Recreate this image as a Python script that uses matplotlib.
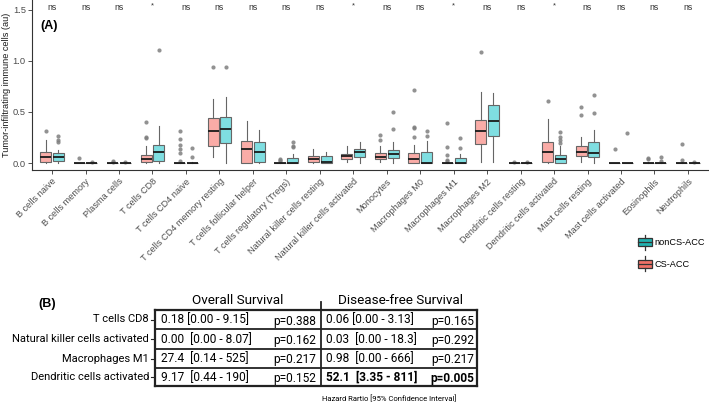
import matplotlib
matplotlib.use("Agg")
import matplotlib.pyplot as plt
from matplotlib.patches import Rectangle
from matplotlib.lines import Line2D
from matplotlib.legend_handler import HandlerBase

plt.rcParams['font.family'] = ['Liberation Sans', 'DejaVu Sans']

# ---------------- data, panel A ----------------
cells = ['B cells naive', 'B cells memory', 'Plasma cells', 'T cells CD8',
         'T cells CD4 naive', 'T cells CD4 memory resting',
         'T cells follicular helper', 'T cells regulatory (Tregs)',
         'Natural killer cells resting', 'Natural killer cells activated',
         'Monocytes', 'Macrophages M0', 'Macrophages M1', 'Macrophages M2',
         'Dendritic cells resting', 'Dendritic cells activated',
         'Mast cells resting', 'Mast cells activated', 'Eosinophils',
         'Neutrophils']
signif = ['ns', 'ns', 'ns', '*', 'ns', 'ns', 'ns', 'ns', 'ns', '*',
          'ns', 'ns', '*', 'ns', 'ns', '*', 'ns', 'ns', 'ns', 'ns']

# CS-ACC box statistics
cs_med = [0.062, 0, 0, 0.039, 0, 0.316, 0.14, 0, 0.036, 0.068,
          0.055, 0.042, 0, 0.31, 0, 0.104, 0.11, 0, 0, 0]
cs_q1 = [0.013, 0, 0, 0.013, 0, 0.166, 0, 0, 0.006, 0.036,
         0.039, 0, 0, 0.182, 0, 0.013, 0.068, 0, 0, 0]
cs_q3 = [0.11, 0.002, 0.003, 0.078, 0.004, 0.44, 0.218, 0.005, 0.065, 0.088,
         0.094, 0.094, 0.005, 0.42, 0.003, 0.208, 0.166, 0, 0.003, 0.003]
cs_lo = [0, 0, 0, 0, 0, 0.055, 0, 0, 0, 0.007,
         0.01, 0, 0, 0.007, 0, 0.005, 0.007, 0, 0, 0]
cs_hi = [0.23, 0.005, 0.008, 0.166, 0.01, 0.625, 0.41, 0.012, 0.137, 0.166,
         0.17, 0.176, 0.012, 0.697, 0.007, 0.43, 0.257, 0, 0.007, 0.007]
cs_out = [[0.31], [0.049], [0.015, 0.02], [0.24, 0.257, 0.404],
          [0.02, 0.1, 0.14, 0.18, 0.235, 0.31], [0.94], [], [0.02, 0.03, 0.035],
          [], [], [0.23, 0.27], [0.25, 0.345, 0.355, 0.717],
          [0.02, 0.03, 0.078, 0.156, 0.388], [1.085], [0.015], [0.61],
          [0.472, 0.544], [0.14], [0.04, 0.05], [0.03, 0.186]]

# nonCS-ACC box statistics
ncs_med = [0.059, 0, 0, 0.107, 0, 0.33, 0.11, 0.005, 0.01, 0.104,
           0.088, 0.0, 0.005, 0.407, 0, 0.036, 0.098, 0, 0, 0]
ncs_q1 = [0.023, 0, 0, 0.023, 0, 0.2, 0.013, 0, 0, 0.055,
          0.046, 0, 0, 0.264, 0, 0, 0.055, 0, 0, 0]
ncs_q3 = [0.094, 0.002, 0.003, 0.18, 0.003, 0.453, 0.208, 0.046, 0.068, 0.137,
          0.127, 0.104, 0.046, 0.567, 0.003, 0.078, 0.202, 0, 0.003, 0.002]
ncs_lo = [0.005, 0, 0, 0, 0, 0, 0, 0, 0, 0,
          0.005, 0, 0, 0.013, 0, 0, 0, 0, 0, 0]
ncs_hi = [0.127, 0.005, 0.006, 0.36, 0.007, 0.648, 0.32, 0.088, 0.11, 0.21,
          0.21, 0.215, 0.088, 0.687, 0.006, 0.17, 0.322, 0, 0.006, 0.005]
ncs_out = [[0.21, 0.225, 0.264], [0.01], [0.012], [1.104], [0.055, 0.15],
           [0.935], [], [0.153, 0.166, 0.208], [], [], [0.33, 0.495],
           [0.267, 0.316], [0.143, 0.244], [], [0.012], [0.2, 0.225, 0.25, 0.30],
           [0.492, 0.664], [0.296], [0.02, 0.06], [0.01]]

# ---------------- data, panel B ----------------
row_labels = ['T cells CD8', 'Natural killer cells activated',
              'Macrophages M1', 'Dendritic cells activated']
os_hr = ['0.18 [0.00 - 9.15]', '0.00  [0.00 - 8.07]',
         '27.4  [0.14 - 525]', '9.17  [0.44 - 190]']
os_p = ['p=0.388', 'p=0.162', 'p=0.217', 'p=0.152']
dfs_hr = ['0.06 [0.00 - 3.13]', '0.03  [0.00 - 18.3]',
          '0.98  [0.00 - 666]', '52.1  [3.35 - 811]']
dfs_p = ['p=0.165', 'p=0.292', 'p=0.217', 'p=0.005']
dfs_bold = [False, False, False, True]


def make_stats(med, q1, q3, lo, hi, out):
    return [dict(med=med[i], q1=q1[i], q3=q3[i], whislo=lo[i], whishi=hi[i],
                 fliers=out[i]) for i in range(len(med))]


class BoxKey(HandlerBase):
    def create_artists(self, legend, orig_handle, xdescent, ydescent,
                       width, height, fontsize, trans):
        x0, y0 = -xdescent, -ydescent
        fc = orig_handle.get_facecolor()
        box = Rectangle((x0, y0 + 0.2 * height), width, 0.6 * height,
                        facecolor=fc, edgecolor='#333333', lw=0.9, transform=trans)
        med = Line2D([x0, x0 + width], [y0 + 0.5 * height] * 2,
                     color='#333333', lw=0.9, transform=trans)
        w1 = Line2D([x0 + width / 2] * 2, [y0 - 0.05 * height, y0 + 0.2 * height],
                    color='#333333', lw=0.9, transform=trans)
        w2 = Line2D([x0 + width / 2] * 2, [y0 + 0.8 * height, y0 + 1.05 * height],
                    color='#333333', lw=0.9, transform=trans)
        return [box, med, w1, w2]


fig = plt.figure(figsize=(7.09, 4.05), dpi=100)

# table canvas in pixel coordinates
axt = fig.add_axes([0, 0, 1, 1])
axt.set_xlim(0, 709)
axt.set_ylim(405, 0)
axt.axis('off')

ax = fig.add_axes([32 / 709, 1 - 170 / 405, 676 / 709, 170 / 405])
pos = list(range(len(cells)))
box_kw = dict(widths=0.33, patch_artist=True, showcaps=False,
              medianprops=dict(color='#1a1a1a', lw=1.3),
              whiskerprops=dict(color='#666666', lw=0.8),
              flierprops=dict(marker='o', markerfacecolor='#7f7f7f',
                              markeredgecolor='none', markersize=3.0, alpha=0.85))
ax.bxp(make_stats(cs_med, cs_q1, cs_q3, cs_lo, cs_hi, cs_out),
       positions=[p - 0.19 for p in pos],
       boxprops=dict(facecolor=(0.973, 0.463, 0.427, 0.6), edgecolor='#666666', lw=0.8),
       **box_kw)
ax.bxp(make_stats(ncs_med, ncs_q1, ncs_q3, ncs_lo, ncs_hi, ncs_out),
       positions=[p + 0.19 for p in pos],
       boxprops=dict(facecolor=(0.0, 0.749, 0.769, 0.5), edgecolor='#666666', lw=0.8),
       **box_kw)

for i, s in enumerate(signif):
    if s == '*':
        ax.text(i, 1.535, s, ha='center', va='center', fontsize=5.5, color='#333333')
    else:
        ax.text(i, 1.52, s, ha='center', va='center', fontsize=6.3, color='#333333')

ax.set_xlim(-0.6, len(cells) - 0.4)
ax.set_ylim(-0.068, 1.593)
ax.set_yticks([0, 0.5, 1.0, 1.5])
ax.set_yticklabels(['0.0', '0.5', '1.0', '1.5'])
ax.set_xticks(pos)
ax.set_xticklabels(cells, rotation=45, ha='right', va='top',
                   rotation_mode='anchor', fontsize=6.6)
ax.tick_params(axis='both', length=3, width=0.6, color='#333333',
               labelcolor='#4d4d4d', pad=2)
ax.tick_params(axis='y', labelsize=6.7, pad=1.5)
for side in ['top', 'right']:
    ax.spines[side].set_visible(False)
for side in ['left', 'bottom']:
    ax.spines[side].set_color('#333333')
    ax.spines[side].set_linewidth(0.8)
ax.patch.set_alpha(0)
ax.set_ylabel('Tumor-infiltrating immune cells (au)', fontsize=6.6, color='#1a1a1a')
ax.yaxis.set_label_coords(-0.0315, 0.5)
ax.text(0.012, 0.83, '(A)', transform=ax.transAxes, fontsize=9, fontweight='bold')

handles = [Rectangle((0, 0), 1, 1, facecolor='#20B2B0'),
           Rectangle((0, 0), 1, 1, facecolor='#F07167')]
fig.legend(handles, ['nonCS-ACC', 'CS-ACC'], handler_map={Rectangle: BoxKey()},
           loc='upper left', bbox_to_anchor=(633 / 709, 1 - 231 / 405),
           frameon=False, fontsize=6.6, handlelength=1.6, handleheight=1.9,
           handletextpad=0.25, labelspacing=0.85, borderpad=0)

# ---------------- panel B: table ----------------
tf = ['Roboto', 'DejaVu Sans']
axt.text(38, 304, '(B)', fontsize=9, fontweight='bold', va='center', ha='left')
axt.text(238, 300, 'Overall Survival', fontsize=9.7, family=tf, ha='center', va='center')
axt.text(401, 300, 'Disease-free Survival', fontsize=9.7, family=tf,
         ha='center', va='center')

row_edges = [310, 329, 349, 368, 386]
for k, y in enumerate(row_edges):
    lw = 1.6 if k in (0, len(row_edges) - 1) else 1.3
    axt.plot([155, 477], [y, y], color='#222222', lw=lw, solid_capstyle='projecting')
axt.plot([155, 155], [310, 386], color='#222222', lw=1.6)
axt.plot([477, 477], [310, 386], color='#222222', lw=1.6)
axt.plot([321, 321], [302, 386], color='#222222', lw=1.3)

for r in range(len(row_labels)):
    yc = (row_edges[r] + row_edges[r + 1]) / 2
    axt.text(149, yc, row_labels[r], fontsize=8, family=tf, ha='right', va='center')
    axt.plot([150.5, 154], [yc, yc], color='#222222', lw=0.8)
    axt.text(161, yc + 0.5, os_hr[r], fontsize=8.6, family=tf, ha='left', va='center')
    axt.text(316, yc + 1.5, os_p[r], fontsize=8.6, family=tf, ha='right', va='center')
    fw = 'bold' if dfs_bold[r] else 'normal'
    axt.text(326, yc + 0.5, dfs_hr[r], fontsize=8.6, family=tf, ha='left',
             va='center', fontweight=fw)
    axt.text(474, yc + 1.5, dfs_p[r], fontsize=8.6, family=tf, ha='right',
             va='center', fontweight=fw)

axt.text(322, 398, 'Hazard Rartio [95% Confidence Interval]', fontsize=5.5,
         family=tf, ha='left', va='center')

fig.savefig('out.png', dpi=100)
